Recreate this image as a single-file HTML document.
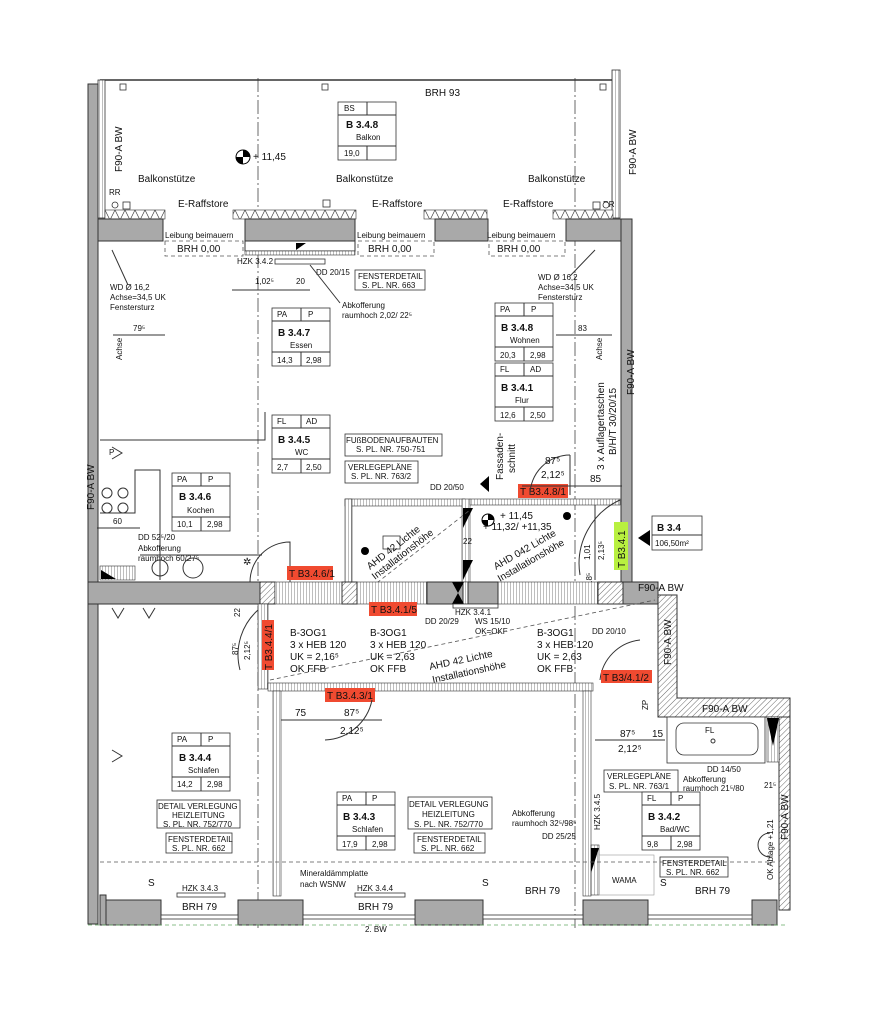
<!DOCTYPE html>
<html><head><meta charset="utf-8"><style>
html,body{margin:0;padding:0;background:#fff;}
svg{display:block;font-family:"Liberation Sans",Arial,sans-serif;}
.t{font-size:10px;fill:#111}
.s{font-size:8px;fill:#111}
.w{fill:#a9a9a9;stroke:#333;stroke-width:1}
.l{stroke:#333;stroke-width:1;fill:none}
.ax{stroke:#444;stroke-width:0.8;stroke-dasharray:14 3 2 3;fill:none}
.d{stroke:#555;stroke-width:0.8;stroke-dasharray:4 3;fill:none}
.r{fill:#f04a30}
.b{fill:#fff;stroke:#333;stroke-width:0.8}
</style></head><body>
<svg width="883" height="1024" viewBox="0 0 883 1024" xmlns="http://www.w3.org/2000/svg">
<defs>
<pattern id="h" width="4" height="4" patternUnits="userSpaceOnUse" patternTransform="rotate(45)"><rect width="4" height="4" fill="#fff"/><line x1="0" y1="0" x2="0" y2="4" stroke="#444" stroke-width="0.8"/></pattern>
<pattern id="v" width="3" height="3" patternUnits="userSpaceOnUse"><rect width="3" height="3" fill="#fff"/><line x1="0" y1="0" x2="0" y2="3" stroke="#444" stroke-width="0.7"/></pattern>
<pattern id="z" width="10" height="10" patternUnits="userSpaceOnUse"><rect width="10" height="10" fill="#fff"/><polyline points="0,10 5,0 10,10" stroke="#444" stroke-width="0.7" fill="none"/></pattern>
<g id="st">
<rect x="0" y="0" width="58" height="58" class="b"/>
<line x1="0" y1="13" x2="58" y2="13" class="l"/><line x1="0" y1="44" x2="58" y2="44" class="l"/>
<line x1="29" y1="0" x2="29" y2="13" class="l"/><line x1="29" y1="44" x2="29" y2="58" class="l"/>
</g>
</defs>

<line x1="258" y1="78" x2="258" y2="930" class="ax"/>
<line x1="575" y1="78" x2="575" y2="930" class="ax"/>

<line x1="100" y1="80" x2="615" y2="80" stroke="#333" stroke-width="1.5"/>
<rect x="98" y="80" width="7" height="138" fill="url(#v)" stroke="#333" stroke-width="0.8"/>
<rect x="612" y="70" width="8" height="148" fill="url(#v)" stroke="#333" stroke-width="0.8"/>
<rect x="88" y="84" width="10" height="840" class="w"/>
<rect x="120" y="84" width="6" height="6" class="b"/><rect x="322" y="84" width="6" height="6" class="b"/><rect x="600" y="84" width="6" height="6" class="b"/>
<text x="425" y="96" class="t" font-size="12">BRH 93</text>
<use href="#st" x="338" y="102"/>
<text x="344" y="111" class="s" font-size="6">BS</text>
<text x="346" y="128" class="t" font-size="13" font-weight="bold">B 3.4.8</text>
<text x="356" y="140" class="s" font-size="5.5">Balkon</text>
<text x="344" y="156" class="s" font-size="5.5">19,0</text>
<circle cx="243" cy="157" r="7" fill="#fff" stroke="#000"/><path d="M243,150 A7,7 0 0 1 250,157 L243,157Z M243,164 A7,7 0 0 1 236,157 L243,157Z" fill="#000"/>
<text x="253" y="160" class="t" font-size="11">+ 11,45</text>
<text transform="translate(122,172) rotate(-90)" class="t">F90-A BW</text>
<text transform="translate(636,175) rotate(-90)" class="t">F90-A BW</text>
<text x="138" y="182" class="t" font-size="11">Balkonstütze</text>
<text x="336" y="182" class="t" font-size="11">Balkonstütze</text>
<text x="528" y="182" class="t" font-size="11">Balkonstütze</text>
<text x="109" y="195" class="s">RR</text><text x="603" y="207" class="s">RR</text>
<rect x="123" y="202" width="7" height="7" class="b"/><circle cx="115" cy="205" r="3" class="b"/>
<rect x="323" y="200" width="7" height="7" class="b"/>
<rect x="593" y="202" width="7" height="7" class="b"/><circle cx="606" cy="205" r="3" class="b"/>
<text x="178" y="207" class="t" font-size="11">E-Raffstore</text>
<text x="372" y="207" class="t" font-size="11">E-Raffstore</text>
<text x="503" y="207" class="t" font-size="11">E-Raffstore</text>
<rect x="105" y="210" width="60" height="9" fill="url(#z)" stroke="#333" stroke-width="0.6"/>
<rect x="233" y="210" width="123" height="9" fill="url(#z)" stroke="#333" stroke-width="0.6"/>
<rect x="424" y="210" width="63" height="9" fill="url(#z)" stroke="#333" stroke-width="0.6"/>
<rect x="553" y="210" width="60" height="9" fill="url(#z)" stroke="#333" stroke-width="0.6"/>

<rect x="98" y="219" width="65" height="22" class="w"/>
<rect x="245" y="219" width="110" height="22" class="w"/>
<rect x="435" y="219" width="53" height="22" class="w"/>
<rect x="566" y="219" width="55" height="22" class="w"/>
<rect x="621" y="219" width="11" height="372" class="w"/>
<rect x="245" y="241" width="110" height="10" fill="#fff" stroke="#333"/>
<rect x="245" y="251" width="110" height="4" fill="url(#v)" stroke="#333" stroke-width="0.6"/>
<path d="M296,243 l10,0 l-10,7z" fill="#000"/>
<g class="s" font-size="9">
<text x="165" y="238">Leibung beimauern</text><text x="357" y="238">Leibung beimauern</text><text x="487" y="238">Leibung beimauern</text>
</g>
<g class="t" font-size="11">
<text x="177" y="252">BRH 0,00</text><text x="368" y="252">BRH 0,00</text><text x="497" y="252">BRH 0,00</text>
</g>
<rect x="165" y="241" width="78" height="15" class="d"/><rect x="358" y="241" width="76" height="15" class="d"/><rect x="489" y="241" width="76" height="15" class="d"/>
<text x="237" y="264" class="s">HZK 3.4.2</text>
<rect x="275" y="259" width="50" height="5" class="b"/>
<text x="316" y="275" class="s">DD 20/15</text>
<rect x="355" y="270" width="70" height="20" class="b"/>
<text x="358" y="279" class="s">FENSTERDETAIL</text><text x="362" y="288" class="s">S. PL. NR. 663</text>
<text x="255" y="284" class="s">1,02⁵</text><text x="296" y="284" class="s">20</text>
<line x1="232" y1="290" x2="310" y2="290" class="l"/>
<g class="s"><text x="110" y="290">WD Ø 16,2</text><text x="110" y="300">Achse=34,5 UK</text><text x="110" y="310">Fenstersturz</text>
<text x="538" y="280">WD Ø 16,2</text><text x="538" y="290">Achse=34,5 UK</text><text x="538" y="300">Fenstersturz</text></g>
<line x1="112" y1="250" x2="128" y2="285" class="l"/><line x1="595" y1="250" x2="570" y2="276" class="l"/>
<use href="#st" x="272" y="308"/>
<text x="277" y="317" class="s" font-size="6">PA</text><text x="308" y="317" class="s" font-size="6">P</text>
<text x="278" y="336" class="t" font-size="13" font-weight="bold">B 3.4.7</text>
<text x="290" y="348" class="s" font-size="5.5">Essen</text>
<text x="277" y="363" class="s" font-size="5.5">14,3</text><text x="306" y="363" class="s" font-size="5.5">2,98</text>
<text x="342" y="308" class="s">Abkofferung</text><text x="342" y="318" class="s">raumhoch 2,02/ 22⁵</text>
<line x1="340" y1="303" x2="310" y2="265" class="l"/>
<text x="133" y="331" class="s">79⁵</text><line x1="113" y1="335" x2="165" y2="335" class="l"/>
<text transform="translate(122,360) rotate(-90)" class="s" font-size="6">Achse</text>
<text transform="translate(602,360) rotate(-90)" class="s" font-size="6">Achse</text>

<use href="#st" x="495" y="303"/>
<text x="500" y="312" class="s" font-size="6">PA</text><text x="531" y="312" class="s" font-size="6">P</text>
<text x="501" y="331" class="t" font-size="13" font-weight="bold">B 3.4.8</text>
<text x="510" y="343" class="s" font-size="5.5">Wohnen</text>
<text x="500" y="358" class="s" font-size="5.5">20,3</text><text x="530" y="358" class="s" font-size="5.5">2,98</text>
<use href="#st" x="495" y="363"/>
<text x="500" y="372" class="s" font-size="6">FL</text><text x="530" y="372" class="s" font-size="6">AD</text>
<text x="501" y="391" class="t" font-size="13" font-weight="bold">B 3.4.1</text>
<text x="515" y="403" class="s" font-size="5.5">Flur</text>
<text x="500" y="418" class="s" font-size="5.5">12,6</text><text x="530" y="418" class="s" font-size="5.5">2,50</text>
<text x="578" y="331" class="s">83</text><line x1="556" y1="335" x2="612" y2="335" class="l"/>
<text transform="translate(604,470) rotate(-90)" class="t">3 x Auflagertaschen</text>
<text transform="translate(616,455) rotate(-90)" class="t">B/H/T 30/20/15</text>
<text transform="translate(634,395) rotate(-90)" class="t">F90-A BW</text>

<polyline points="100,440 265,440 265,412" class="l"/>
<polyline points="100,513 135,513 135,470 160,470 160,580" class="l"/>
<path d="M112,447 l10,6 l-10,6" class="l"/><text x="109" y="455" class="s" font-size="6">P</text>
<circle cx="107" cy="493" r="5" class="l"/><circle cx="123" cy="493" r="5" class="l"/>
<circle cx="107" cy="508" r="5" class="l"/><circle cx="123" cy="508" r="5" class="l"/>
<text x="113" y="524" class="s">60</text><line x1="97" y1="528" x2="140" y2="528" class="l"/>
<text transform="translate(94,510) rotate(-90)" class="t">F90-A BW</text>
<use href="#st" x="172" y="473"/>
<text x="177" y="482" class="s" font-size="6">PA</text><text x="208" y="482" class="s" font-size="6">P</text>
<text x="179" y="500" class="t" font-size="13" font-weight="bold">B 3.4.6</text>
<text x="187" y="513" class="s" font-size="5.5">Kochen</text>
<text x="177" y="527" class="s" font-size="5.5">10,1</text><text x="207" y="527" class="s" font-size="5.5">2,98</text>
<text x="138" y="540" class="s">DD 52⁵/20</text><text x="138" y="551" class="s">Abkofferung</text><text x="138" y="561" class="s">raumhoch 60/27⁵</text>
<rect x="100" y="566" width="35" height="14" fill="url(#v)" stroke="#333" stroke-width="0.6"/>
<path d="M101,570 l15,9 l-15,0z" fill="#000"/>
<line x1="140" y1="555" x2="262" y2="555" class="l"/>
<circle cx="160" cy="568" r="8" class="l"/><circle cx="193" cy="568" r="10" class="l"/>
<text x="243" y="565" class="t">✲</text>

<use href="#st" x="272" y="415"/>
<text x="277" y="424" class="s" font-size="6">FL</text><text x="306" y="424" class="s" font-size="6">AD</text>
<text x="278" y="443" class="t" font-size="13" font-weight="bold">B 3.4.5</text>
<text x="295" y="455" class="s" font-size="5.5">WC</text>
<text x="277" y="470" class="s" font-size="5.5">2,7</text><text x="306" y="470" class="s" font-size="5.5">2,50</text>
<rect x="345" y="434" width="97" height="22" class="b"/>
<text x="346" y="443" class="s">FUßBODENAUFBAUTEN</text><text x="356" y="452" class="s">S. PL. NR. 750-751</text>
<rect x="345" y="461" width="73" height="22" class="b"/>
<text x="348" y="470" class="s">VERLEGEPLÄNE</text><text x="351" y="479" class="s">S. PL. NR. 763/2</text>
<text x="430" y="490" class="s">DD 20/50</text>
<rect x="345" y="499" width="120" height="7" fill="url(#v)" stroke="#333" stroke-width="0.6"/>
<rect x="345" y="499" width="7" height="83" fill="url(#v)" stroke="#333" stroke-width="0.6"/>
<rect x="462" y="499" width="8" height="83" fill="url(#v)" stroke="#333" stroke-width="0.6"/>
<rect x="470" y="499" width="150" height="6" fill="url(#v)" stroke="#333" stroke-width="0.6"/>
<rect x="518" y="484" width="50" height="14" class="r"/><text x="520" y="495" class="t" fill="#111">T B3.4.8/1</text>
<circle cx="365" cy="551" r="4" fill="#000"/><rect x="383" y="536" width="17" height="13" class="b"/>
<path d="M463,508 l10,0 l-10,20z M463,560 l10,0 l-10,20z" fill="#000"/>
<text x="463" y="544" class="s">22</text>
<text transform="translate(370,570) rotate(-38)" class="t">AHD 42 Lichte</text>
<text transform="translate(375,580) rotate(-38)" class="t">Installationshöhe</text>
<line x1="355" y1="600" x2="470" y2="510" class="d"/>
<circle cx="488" cy="520" r="6" fill="#fff" stroke="#000"/><path d="M488,514 A6,6 0 0 1 494,520 L488,520Z M488,526 A6,6 0 0 1 482,520 L488,520Z" fill="#000"/>
<text x="500" y="519" class="t">+ 11,45</text><text x="483" y="530" class="t">+ 11,32/ +11,35</text>
<circle cx="567" cy="516" r="4" fill="#000"/>
<text transform="translate(496,570) rotate(-30)" class="t">AHD 042 Lichte</text>
<text transform="translate(500,582) rotate(-30)" class="t">Installationshöhe</text>
<text transform="translate(503,480) rotate(-90)" class="t">Fassaden-</text>
<text transform="translate(515,473) rotate(-90)" class="t">schnitt</text>
<path d="M480,484 l9,-8 l0,16z" fill="#000"/>
<path d="M570,455 A40,40 0 0 0 530,495" class="l"/><line x1="570" y1="455" x2="570" y2="495" class="l"/>
<text x="545" y="464" class="t">87⁵</text><text x="541" y="478" class="t">2,12⁵</text><text x="590" y="482" class="t">85</text>
<line x1="522" y1="486" x2="622" y2="486" class="l"/>
<line x1="595" y1="505" x2="595" y2="580" class="l"/>
<path d="M620,500 A70,70 0 0 0 580,575" class="l"/>
<text transform="translate(590,560) rotate(-90)" class="s">1,01</text>
<text transform="translate(604,560) rotate(-90)" class="s">2,13⁵</text>
<text transform="translate(592,585) rotate(-90)" class="s">18⁵</text>
<rect x="614" y="522" width="14" height="48" fill="#b8f040"/>
<text transform="translate(625,568) rotate(-90)" class="t">T B3.4.1</text>
<path d="M650,530 l-12,8 l12,8z" fill="#000"/>
<rect x="652" y="516" width="50" height="34" class="b"/><line x1="652" y1="535" x2="702" y2="535" class="l"/>
<text x="657" y="531" class="t" font-size="12" font-weight="bold">B 3.4</text><text x="655" y="546" class="s">106,50m²</text>

<rect x="88" y="582" width="172" height="22" class="w"/>
<rect x="260" y="582" width="15" height="22" fill="url(#h)" stroke="#333"/>
<rect x="275" y="582" width="340" height="22" fill="url(#v)" stroke="#333" stroke-width="0.6"/>
<rect x="342" y="582" width="15" height="22" fill="url(#h)" stroke="#333"/>
<rect x="427" y="582" width="36" height="22" class="w"/>
<rect x="468" y="582" width="30" height="22" class="w"/>
<rect x="598" y="582" width="25" height="22" fill="url(#h)" stroke="#333"/>
<rect x="623" y="582" width="35" height="22" class="w"/>
<path d="M452,582 l12,22 l-12,0 l12,-22z" fill="#000"/>
<path d="M250,582 A40,40 0 0 1 290,542 L290,582" class="l"/>
<rect x="287" y="566" width="46" height="14" class="r"/><text x="289" y="577" class="t">T B3.4.6/1</text>
<text x="638" y="591" class="t">F90-A BW</text>

<rect x="258" y="604" width="10" height="85" fill="url(#v)" stroke="#333" stroke-width="0.6"/>
<rect x="268" y="683" width="325" height="8" fill="url(#v)" stroke="#333" stroke-width="0.6"/>
<rect x="369" y="602" width="48" height="14" class="r"/><text x="371" y="613" class="t">T B3.4.1/5</text>
<rect x="453" y="604" width="45" height="4" class="b"/>
<text x="455" y="615" class="s">HZK 3.4.1</text><text x="425" y="624" class="s">DD 20/29</text>
<text x="475" y="624" class="s">WS 15/10</text><text x="475" y="634" class="s">OK=OKF</text>
<g class="t" font-size="11">
<text x="290" y="636">B-3OG1</text><text x="290" y="648">3 x HEB 120</text><text x="290" y="660">UK = 2,16⁵</text><text x="290" y="672">OK FFB</text>
<text x="370" y="636">B-3OG1</text><text x="370" y="648">3 x HEB 120</text><text x="370" y="660">UK = 2,63</text><text x="370" y="672">OK FFB</text>
<text x="537" y="636">B-3OG1</text><text x="537" y="648">3 x HEB 120</text><text x="537" y="660">UK = 2,63</text><text x="537" y="672">OK FFB</text>
</g>
<text transform="translate(430,670) rotate(-12)" class="t">AHD 42 Lichte</text>
<text transform="translate(433,683) rotate(-12)" class="t">Installationshöhe</text>
<line x1="270" y1="680" x2="655" y2="600" class="d"/>
<text x="592" y="634" class="s">DD 20/10</text>
<rect x="262" y="620" width="12" height="50" class="r"/>
<text transform="translate(272,670) rotate(-90)" class="t" font-size="9">T B3.4.4/1</text>
<path d="M258,610 A60,60 0 0 0 240,670" class="l"/>
<text transform="translate(238,655) rotate(-90)" class="s">87⁵</text><text transform="translate(250,660) rotate(-90)" class="s">2,12⁵</text>
<text transform="translate(240,617) rotate(-90)" class="s">22</text>
<path d="M640,640 A45,45 0 0 0 600,680" class="l"/>
<rect x="601" y="670" width="51" height="13" class="r"/><text x="603" y="681" class="t">T B3/4.1/2</text>
<rect x="325" y="688" width="50" height="14" class="r"/><text x="327" y="699" class="t">T B3.4.3/1</text>
<path d="M372,700 A50,50 0 0 1 325,740" class="l"/>
<text x="295" y="716" class="t">75</text><text x="344" y="716" class="t">87⁵</text><text x="340" y="734" class="t">2,12⁵</text>
<line x1="278" y1="720" x2="382" y2="720" class="l"/>

<polygon points="658,595 677,595 677,698 790,698 790,717 658,717" fill="url(#h)" stroke="#333"/>
<text transform="translate(671,665) rotate(-90)" class="t">F90-A BW</text>
<text x="702" y="712" class="t">F90-A BW</text>
<rect x="779" y="717" width="11" height="193" fill="url(#h)" stroke="#333"/>
<text transform="translate(788,840) rotate(-90)" class="t">F90-A BW</text>
<text transform="translate(773,880) rotate(-90)" class="s">OK Ablage +1,21</text>
<rect x="667" y="717" width="98" height="46" class="b"/><rect x="676" y="723" width="82" height="32" rx="8" class="b"/>
<text x="705" y="733" class="s">FL</text><circle cx="713" cy="741" r="2" class="l"/>
<rect x="767" y="717" width="12" height="45" fill="url(#v)" stroke="#333" stroke-width="0.6"/>
<path d="M767,718 l12,0 l-6,28z" fill="#000"/>
<text x="620" y="737" class="t">87⁵</text><text x="652" y="737" class="t">15</text><text x="618" y="752" class="t">2,12⁵</text>
<line x1="595" y1="740" x2="665" y2="740" class="l"/>
<text transform="translate(648,710) rotate(-90)" class="s">ZP</text>
<text x="707" y="772" class="s">DD 14/50</text>
<text x="683" y="782" class="s">Abkofferung</text><text x="683" y="791" class="s">raumhoch 21⁵/80</text>
<text x="764" y="788" class="s">21⁵</text>
<rect x="604" y="770" width="74" height="22" class="b"/>
<text x="607" y="779" class="s">VERLEGEPLÄNE</text><text x="609" y="789" class="s">S. PL. NR. 763/1</text>
<use href="#st" x="642" y="792"/>
<text x="647" y="801" class="s" font-size="6">FL</text><text x="678" y="801" class="s" font-size="6">P</text>
<text x="648" y="820" class="t" font-size="13" font-weight="bold">B 3.4.2</text>
<text x="660" y="832" class="s" font-size="5.5">Bad/WC</text>
<text x="647" y="847" class="s" font-size="5.5">9,8</text><text x="677" y="847" class="s" font-size="5.5">2,98</text>
<rect x="660" y="857" width="68" height="20" class="b"/>
<text x="662" y="866" class="s">FENSTERDETAIL</text><text x="666" y="875" class="s">S. PL. NR. 662</text>
<path d="M770,833 a12,12 0 0 0 0,24" class="l"/>

<rect x="273" y="691" width="8" height="205" fill="url(#v)" stroke="#333" stroke-width="0.6"/>
<rect x="583" y="691" width="8" height="205" fill="url(#v)" stroke="#333" stroke-width="0.6"/>
<rect x="591" y="845" width="8" height="50" fill="url(#v)" stroke="#333" stroke-width="0.6"/>
<path d="M591,848 l8,0 l-8,25z" fill="#000"/>
<text transform="translate(600,830) rotate(-90)" class="s">HZK 3.4.5</text>
<path d="M112,608 l6,10 l6,-10" class="l"/><path d="M112,750 l10,6 l-10,6" class="l"/>
<path d="M143,608 l6,10 l6,-10" class="l"/>
<use href="#st" x="172" y="733"/>
<text x="177" y="742" class="s" font-size="6">PA</text><text x="208" y="742" class="s" font-size="6">P</text>
<text x="179" y="761" class="t" font-size="13" font-weight="bold">B 3.4.4</text>
<text x="188" y="773" class="s" font-size="5.5">Schlafen</text>
<text x="177" y="787" class="s" font-size="5.5">14,2</text><text x="207" y="787" class="s" font-size="5.5">2,98</text>
<rect x="157" y="800" width="83" height="28" class="b"/>
<text x="158" y="809" class="s">DETAIL VERLEGUNG</text><text x="172" y="818" class="s">HEIZLEITUNG</text><text x="163" y="827" class="s">S. PL. NR. 752/770</text>
<rect x="166" y="833" width="66" height="20" class="b"/>
<text x="168" y="842" class="s">FENSTERDETAIL</text><text x="172" y="851" class="s">S. PL. NR. 662</text>
<use href="#st" x="337" y="792"/>
<text x="342" y="801" class="s" font-size="6">PA</text><text x="372" y="801" class="s" font-size="6">P</text>
<text x="343" y="820" class="t" font-size="13" font-weight="bold">B 3.4.3</text>
<text x="352" y="832" class="s" font-size="5.5">Schlafen</text>
<text x="342" y="847" class="s" font-size="5.5">17,9</text><text x="372" y="847" class="s" font-size="5.5">2,98</text>
<rect x="408" y="797" width="84" height="32" class="b"/>
<text x="409" y="807" class="s">DETAIL VERLEGUNG</text><text x="422" y="817" class="s">HEIZLEITUNG</text><text x="414" y="827" class="s">S. PL. NR. 752/770</text>
<rect x="414" y="833" width="71" height="20" class="b"/>
<text x="417" y="842" class="s">FENSTERDETAIL</text><text x="421" y="851" class="s">S. PL. NR. 662</text>
<text x="512" y="816" class="s">Abkofferung</text><text x="512" y="826" class="s">raumhoch 32⁵/98⁵</text>
<text x="542" y="839" class="s">DD 25/25</text>
<text x="612" y="883" class="s" fill="#888">WAMA</text>
<rect x="599" y="855" width="55" height="40" fill="none" stroke="#999" stroke-width="0.6"/>
<line x1="100" y1="862" x2="775" y2="862" class="d"/>
<text x="300" y="876" class="s">Mineraldämmplatte</text><text x="300" y="887" class="s">nach WSNW</text>
<text x="182" y="891" class="s">HZK 3.4.3</text><rect x="177" y="893" width="48" height="4" class="b"/>
<text x="357" y="891" class="s">HZK 3.4.4</text><rect x="355" y="893" width="50" height="4" class="b"/>
<g class="t" font-size="8"><text x="148" y="886">S</text><text x="482" y="886">S</text><text x="660" y="886">S</text></g>
<g class="t" font-size="11"><text x="182" y="910">BRH 79</text><text x="358" y="910">BRH 79</text><text x="525" y="894">BRH 79</text><text x="695" y="894">BRH 79</text></g>

<rect x="100" y="895" width="6" height="30" class="w"/>
<rect x="106" y="900" width="55" height="25" class="w"/>
<rect x="238" y="900" width="65" height="25" class="w"/>
<rect x="415" y="900" width="68" height="25" class="w"/>
<rect x="583" y="900" width="65" height="25" class="w"/>
<rect x="752" y="900" width="25" height="25" class="w"/>
<rect x="161" y="915" width="77" height="4" class="b"/><rect x="303" y="915" width="112" height="4" class="b"/>
<rect x="483" y="915" width="100" height="4" class="b"/><rect x="648" y="915" width="104" height="4" class="b"/>
<line x1="88" y1="925" x2="785" y2="925" stroke="#6a6" stroke-width="0.8" stroke-dasharray="4 3"/>
<text x="365" y="932" class="s">2. BW</text>
</svg>
</body></html>
